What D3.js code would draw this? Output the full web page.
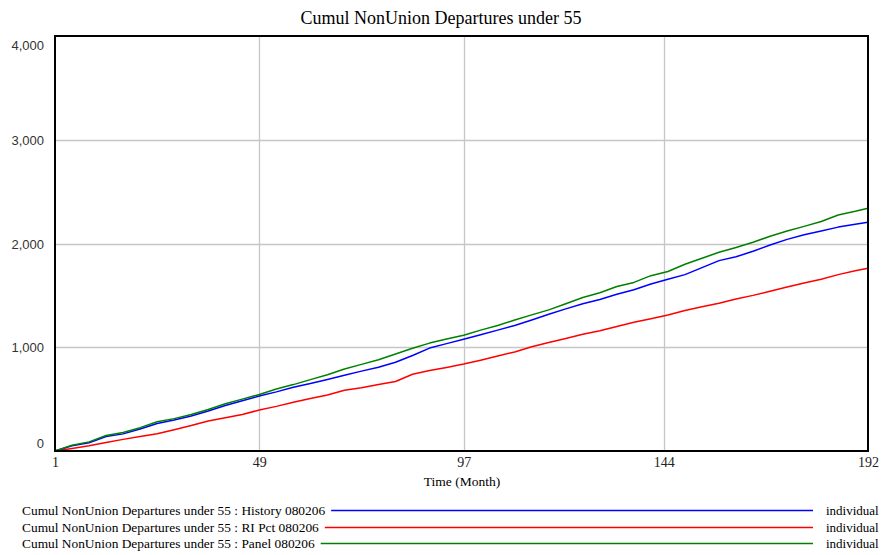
<!DOCTYPE html>
<html>
<head>
<meta charset="utf-8">
<script src="https://cdn.jsdelivr.net/npm/d3@7"></script>
<style>
  html, body { margin: 0; padding: 0; background: #fff; }
  svg { display: block; }
</style>
</head>
<body>
<svg id="chart" width="881" height="555"></svg>
<script>
// Simulation months sampled for the plot
const months = [1, 5, 9, 13, 17, 21, 25, 29, 33, 37, 41, 45, 49, 53, 57, 61, 65, 69, 73, 77, 81, 85, 89, 93, 97,
  101, 105, 109, 113, 117, 121, 125, 129, 133, 137, 141, 145, 149, 153, 157, 161, 165, 169, 173, 177, 181, 185, 189, 192];

// Cumulative departures per run
const historyRun = [0, 50, 80, 140, 165, 212, 265, 298, 338, 385, 438, 485, 530, 570, 615, 650, 690, 730, 770, 808, 855, 920, 992, 1035, 1078,
  1120, 1165, 1210, 1262, 1318, 1370, 1420, 1460, 1510, 1555, 1610, 1655, 1700, 1768, 1835, 1872, 1925, 1985, 2040, 2085, 2120, 2158, 2185, 2205];
const riPctRun = [0, 25, 50, 82, 112, 140, 166, 205, 245, 290, 320, 352, 395, 430, 470, 505, 540, 585, 610, 640, 670, 740, 775, 805, 838,
  875, 915, 955, 1005, 1045, 1085, 1125, 1160, 1200, 1240, 1275, 1310, 1355, 1390, 1425, 1465, 1500, 1540, 1580, 1620, 1655, 1700, 1738, 1762];
const panelRun = [0, 55, 88, 150, 178, 225, 282, 312, 352, 400, 455, 500, 545, 598, 640, 688, 735, 790, 835, 880, 935, 990, 1040, 1080, 1115,
  1165, 1210, 1262, 1312, 1360, 1420, 1480, 1525, 1585, 1625, 1690, 1730, 1800, 1858, 1915, 1962, 2012, 2070, 2120, 2165, 2212, 2275, 2310, 2340];

const seriesNames = [
  "Cumul NonUnion Departures under 55 : History 080206",
  "Cumul NonUnion Departures under 55 : RI Pct 080206",
  "Cumul NonUnion Departures under 55 : Panel 080206"
];
const seriesColors = ["#0000ff", "#ff0000", "#008000"];
const unitLabel = "individual";

const xTicks = [1, 49, 97, 144, 192];
const yTicks = [0, 1000, 2000, 3000, 4000];
const titleText = "Cumul NonUnion Departures under 55";
const xAxisTitle = "Time (Month)";

const svg = d3.select("#chart");
const plot = { left: 55, right: 868, top: 36, bottom: 451 };

const x = d3.scaleLinear().domain([1, 192]).range([plot.left, plot.right]);
const y = d3.scaleLinear().domain([0, 4000]).range([plot.bottom, plot.top]);

// Title
svg.append("text")
  .attr("x", 441).attr("y", 24)
  .attr("text-anchor", "middle")
  .attr("font-family", "'Liberation Serif', 'Times New Roman', serif")
  .attr("font-size", 18)
  .attr("fill", "#000")
  .text(titleText);

// Grid lines (interior ticks only)
svg.append("g")
  .selectAll("line.v")
  .data(xTicks.slice(1, -1))
  .join("line")
  .attr("x1", d => Math.round(x(d)) + 0.5).attr("x2", d => Math.round(x(d)) + 0.5)
  .attr("y1", plot.top).attr("y2", plot.bottom)
  .attr("stroke", "#c6c6c6").attr("stroke-width", 1.3);

svg.append("g")
  .selectAll("line.h")
  .data(yTicks.slice(1, -1))
  .join("line")
  .attr("x1", plot.left).attr("x2", plot.right)
  .attr("y1", d => Math.round(y(d)) + 0.5).attr("y2", d => Math.round(y(d)) + 0.5)
  .attr("stroke", "#c6c6c6").attr("stroke-width", 1.3);

// Y axis labels: end labels pulled inside the frame
const yAxis = d3.axisLeft(y).tickValues(yTicks).tickSize(0).tickPadding(11).tickFormat(d3.format(","));
const yg = svg.append("g").attr("transform", `translate(${plot.left},0)`).call(yAxis);
yg.select(".domain").remove();
yg.selectAll("text")
  .attr("font-family", "'Liberation Sans', Arial, sans-serif")
  .attr("font-size", 13)
  .attr("fill", "#333")
  .attr("dy", d => d === 4000 ? "1.05em" : d === 0 ? "-0.25em" : "0.35em");

// X axis labels
const xAxis = d3.axisBottom(x).tickValues(xTicks).tickSize(0).tickPadding(6).tickFormat(d3.format("d"));
const xg = svg.append("g").attr("transform", `translate(0,${plot.bottom})`).call(xAxis);
xg.select(".domain").remove();
xg.selectAll("text")
  .attr("font-family", "'Liberation Serif', 'Times New Roman', serif")
  .attr("font-size", 14)
  .attr("fill", "#222");

svg.append("text")
  .attr("x", 462).attr("y", 486)
  .attr("text-anchor", "middle")
  .attr("font-family", "'Liberation Serif', 'Times New Roman', serif")
  .attr("font-size", 13.5)
  .attr("fill", "#000")
  .text(xAxisTitle);

// Series lines
const runs = [historyRun, riPctRun, panelRun];
const line = d3.line().x(d => x(d[0])).y(d => y(d[1]));
const drawOrder = [1, 0, 2];
drawOrder.forEach(i => {
  svg.append("path")
    .datum(months.map((m, k) => [m, runs[i][k]]))
    .attr("fill", "none")
    .attr("stroke", seriesColors[i])
    .attr("stroke-width", 1.5)
    .attr("stroke-linejoin", "round")
    .attr("d", line);
});

// Frame
svg.append("rect")
  .attr("x", plot.left).attr("y", plot.top)
  .attr("width", plot.right - plot.left).attr("height", plot.bottom - plot.top)
  .attr("fill", "none").attr("stroke", "#000").attr("stroke-width", 2);

// Legend
const legendRows = [510, 527, 543];
const legend = svg.append("g");
seriesNames.forEach((name, i) => {
  const t = legend.append("text")
    .attr("x", 22).attr("y", legendRows[i] + 4.5)
    .attr("font-family", "'Liberation Serif', 'Times New Roman', serif")
    .attr("font-size", 13.4)
    .attr("fill", "#000")
    .text(name);
  const w = t.node().getComputedTextLength();
  legend.append("line")
    .attr("x1", 22 + w + 6).attr("x2", 813)
    .attr("y1", legendRows[i] + 0.5).attr("y2", legendRows[i] + 0.5)
    .attr("stroke", seriesColors[i]).attr("stroke-width", 1.5);
  legend.append("text")
    .attr("x", 826).attr("y", legendRows[i] + 4.5)
    .attr("font-family", "'Liberation Serif', 'Times New Roman', serif")
    .attr("font-size", 13)
    .attr("fill", "#000")
    .text(unitLabel);
});
</script>
</body>
</html>
